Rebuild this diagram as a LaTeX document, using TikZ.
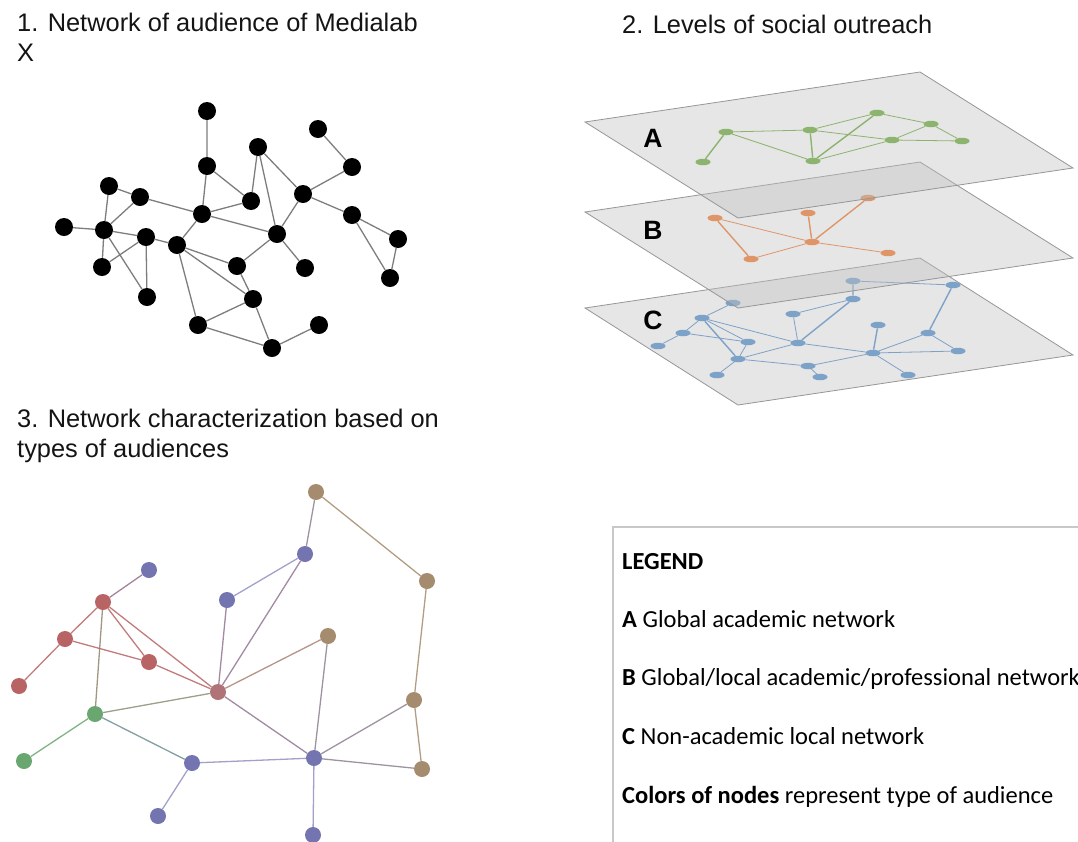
\documentclass[tikz,border=0pt]{standalone}
\usepackage{xcolor}
\usepackage{fontspec}
\setmainfont{Liberation Sans}
\newfontfamily\calibri{Carlito}
\usepackage{tikz}
\usetikzlibrary{positioning,shapes.geometric}
\definecolor{gristexto}{RGB}{20,20,20}
\definecolor{grisarista}{RGB}{125,125,125}
\definecolor{grismarco}{RGB}{200,200,200}
\definecolor{bordeplano}{RGB}{150,150,150}
\definecolor{fondoplano}{RGB}{192,192,192}
\definecolor{verdeA}{RGB}{141,180,110}
\definecolor{naranjaB}{RGB}{222,150,105}
\definecolor{azulC}{RGB}{125,162,200}
\definecolor{rojo}{RGB}{184,100,100}
\definecolor{azul}{RGB}{116,116,176}
\definecolor{marron}{RGB}{165,140,110}
\definecolor{verde}{RGB}{106,166,111}
\definecolor{malva}{RGB}{176,116,120}

\begin{document}
\begin{tikzpicture}[
  x=1pt, y=-1pt,
  tit/.style={font=\fontsize{25.4}{30.5}\selectfont, text=gristexto, anchor=base west, align=left, inner sep=0pt},
  negro/.style={circle, fill=black, minimum size=18pt, inner sep=0pt},
  arista/.style={grisarista, line width=1.3pt},
  plano/.style={draw=bordeplano, line width=0.8pt, fill=fondoplano, fill opacity=0.4},
  capa/.style={font=\fontsize{26.5}{30}\selectfont\bfseries, text=black},
  elip/.style={ellipse, minimum width=15pt, minimum height=6.5pt, inner sep=0pt},
  fina/.style={line width=0.8pt},
  gruesa/.style={line width=1.4pt},
  tipo/.style={circle, minimum size=16pt, inner sep=0pt},
  enlace/.style={line width=1.3pt, opacity=0.85},
  ley/.style={font=\calibri\fontsize{24.5}{28}\selectfont, anchor=base west, inner sep=0pt}
]
\path[use as bounding box, clip] (0,0) rectangle (1078,841);

% 1. red de audiencia
\node[tit] (tit1) at (17,61.5) {1. Network of audience of Medialab\\X};
\node[negro] (n1) at (207,111) {};
\node[negro] (n2) at (207,166) {};
\node[negro] (n3) at (258,147) {};
\node[negro] (n4) at (318,129) {};
\node[negro] (n5) at (352,167) {};
\node[negro] (n6) at (303,194) {};
\node[negro] (n7) at (109,186) {};
\node[negro] (n8) at (140,197) {};
\node[negro] (n9) at (202,214) {};
\node[negro] (n10) at (251,201) {};
\node[negro] (n11) at (352,215) {};
\node[negro] (n12) at (64,227) {};
\node[negro] (n13) at (104,230) {};
\node[negro] (n14) at (146,237) {};
\node[negro] (n15) at (177,245) {};
\node[negro] (n16) at (277,234) {};
\node[negro] (n17) at (398,239) {};
\node[negro] (n18) at (102,267) {};
\node[negro] (n19) at (237,266) {};
\node[negro] (n20) at (305,268) {};
\node[negro] (n21) at (390,278) {};
\node[negro] (n22) at (147,297) {};
\node[negro] (n23) at (253,299) {};
\node[negro] (n24) at (198,325) {};
\node[negro] (n25) at (319,325) {};
\node[negro] (n26) at (272,348) {};
\draw[arista] (n1) -- (n2) (n2) -- (n9) (n2) -- (n10) (n3) -- (n10) (n3) -- (n16)
  (n3) -- (n6) (n4) -- (n5) (n5) -- (n6) (n6) -- (n16) (n6) -- (n11)
  (n11) -- (n17) (n11) -- (n21) (n17) -- (n21) (n7) -- (n8) (n7) -- (n13)
  (n8) -- (n13) (n8) -- (n9) (n12) -- (n13) (n13) -- (n14) (n13) -- (n18)
  (n13) -- (n22) (n14) -- (n18) (n14) -- (n22) (n14) -- (n15) (n15) -- (n9)
  (n9) -- (n10) (n9) -- (n16) (n15) -- (n19) (n15) -- (n23) (n15) -- (n24)
  (n16) -- (n19) (n16) -- (n20) (n19) -- (n23) (n23) -- (n24) (n23) -- (n26)
  (n24) -- (n26) (n26) -- (n25);

% 2. niveles: capa C
\node[tit] (tit2) at (622,33) {2. Levels of social outreach};
\draw[plano] (585,308) -- (920,258) -- (1073,355) -- (738,405) -- cycle;
\node[capa] (etqC) at (653,320) {C};
\begin{scope}[every node/.style={elip, fill=azulC}]
  \node (c1) at (853,281) {};
  \node (c2) at (953,285) {};
  \node (c3) at (733,303) {};
  \node (c4) at (853,299) {};
  \node (c5) at (793,314) {};
  \node (c6) at (702,318) {};
  \node (c7) at (878,325) {};
  \node (c8) at (683,333) {};
  \node (c9) at (928,333) {};
  \node (c10) at (748,342) {};
  \node (c11) at (798,343) {};
  \node (c12) at (658,346) {};
  \node (c13) at (873,353) {};
  \node (c14) at (958,351) {};
  \node (c15) at (738,359) {};
  \node (c16) at (808,366) {};
  \node (c17) at (717,375) {};
  \node (c18) at (820,377) {};
  \node (c19) at (908,375) {};
\end{scope}
\draw[azulC, fina] (c1) -- (c2) (c3) -- (c6) (c4) -- (c5) (c5) -- (c11) (c6) -- (c8)
  (c6) -- (c10) (c6) -- (c11) (c8) -- (c12) (c8) -- (c10) (c11) -- (c15)
  (c11) -- (c13) (c13) -- (c9) (c13) -- (c14) (c13) -- (c16) (c16) -- (c15)
  (c16) -- (c18) (c15) -- (c17) (c9) -- (c14) (c10) -- (c15) (c13) -- (c19);
\draw[azulC, gruesa] (c1) -- (c4) (c4) -- (c11) (c2) -- (c9) (c7) -- (c13) (c6) -- (c15);

% capa B
\draw[plano] (585,212) -- (920,162) -- (1073,258) -- (738,308) -- cycle;
\node[capa] (etqB) at (653,230) {B};
\begin{scope}[every node/.style={elip, fill=naranjaB}]
  \node (b1) at (715,218) {};
  \node (b2) at (808,213) {};
  \node (b3) at (868,198) {};
  \node (b4) at (812,242) {};
  \node (b5) at (751,259) {};
  \node (b6) at (888,253) {};
\end{scope}
\draw[naranjaB, fina] (b1) -- (b4) (b4) -- (b5) (b4) -- (b6);
\draw[naranjaB, gruesa] (b1) -- (b5) (b2) -- (b4) (b3) -- (b4);

% capa A
\draw[plano] (585,122) -- (920,72) -- (1073,168) -- (738,218) -- cycle;
\node[capa] (etqA) at (653,138) {A};
\begin{scope}[every node/.style={elip, fill=verdeA}]
  \node (a1) at (726,132) {};
  \node (a2) at (810,130) {};
  \node (a3) at (877,113) {};
  \node (a4) at (931,124) {};
  \node (a5) at (892,140) {};
  \node (a6) at (962,141) {};
  \node (a7) at (703,162) {};
  \node (a8) at (813,161) {};
\end{scope}
\draw[verdeA, fina] (a1) -- (a2) (a1) -- (a8) (a2) -- (a3) (a2) -- (a5) (a3) -- (a4)
  (a4) -- (a5) (a4) -- (a6) (a5) -- (a6) (a8) -- (a5);
\draw[verdeA, gruesa] (a1) -- (a7) (a2) -- (a8) (a3) -- (a8);

% 3. tipos de audiencia
\node[tit] (tit3) at (17,457.5) {3. Network characterization based on\\types of audiences};
\node[tipo, fill=marron] (t1) at (316,492) {};
\node[tipo, fill=azul] (t2) at (305,554) {};
\node[tipo, fill=marron] (t3) at (427,581) {};
\node[tipo, fill=azul] (t4) at (149,570) {};
\node[tipo, fill=rojo] (t5) at (103,602) {};
\node[tipo, fill=azul] (t6) at (227,600) {};
\node[tipo, fill=rojo] (t7) at (65,639) {};
\node[tipo, fill=marron] (t8) at (328,636) {};
\node[tipo, fill=rojo] (t9) at (149,662) {};
\node[tipo, fill=rojo] (t10) at (19,686) {};
\node[tipo, fill=malva] (t11) at (218,692) {};
\node[tipo, fill=marron] (t12) at (414,700) {};
\node[tipo, fill=verde] (t13) at (95,714) {};
\node[tipo, fill=verde] (t14) at (24,761) {};
\node[tipo, fill=azul] (t15) at (192,763) {};
\node[tipo, fill=azul] (t16) at (314,758) {};
\node[tipo, fill=marron] (t17) at (422,769) {};
\node[tipo, fill=azul] (t18) at (158,816) {};
\node[tipo, fill=azul] (t19) at (313,835) {};
\draw[enlace, rojo] (t5) -- (t7) (t5) -- (t9) (t7) -- (t10) (t7) -- (t9) (t5) -- (t11) (t9) -- (t11);
\draw[enlace, marron] (t1) -- (t3) (t3) -- (t12) (t12) -- (t17);
\draw[enlace, azul!80] (t2) -- (t6) (t16) -- (t15) (t16) -- (t19) (t15) -- (t18);
\draw[enlace, azul!50!malva] (t2) -- (t11) (t6) -- (t11) (t11) -- (t16);
\draw[enlace, marron!50!malva] (t8) -- (t11);
\draw[enlace, marron!50!azul] (t1) -- (t2) (t8) -- (t16) (t12) -- (t16) (t16) -- (t17);
\draw[enlace, verde] (t13) -- (t14);
\draw[enlace, verde!50!azul] (t13) -- (t15);
\draw[enlace, verde!50!malva] (t13) -- (t11);
\draw[enlace, verde!50!rojo] (t13) -- (t5);
\draw[enlace, rojo!50!azul] (t5) -- (t4);

% leyenda
\draw[grismarco, line width=1.5pt] (613,900) -- (613,527) -- (1100,527);
\node[ley] (ley0) at (622,569) {\textbf{LEGEND}};
\node[ley] (leyA) at (622,627) {\textbf{A} Global academic network};
\node[ley] (leyB) at (622,685) {\textbf{B} Global/local academic/professional network};
\node[ley] (leyC) at (622,744) {\textbf{C} Non-academic local network};
\node[ley] (leyD) at (622,803) {\textbf{Colors of nodes} represent type of audience};
\end{tikzpicture}
\end{document}
